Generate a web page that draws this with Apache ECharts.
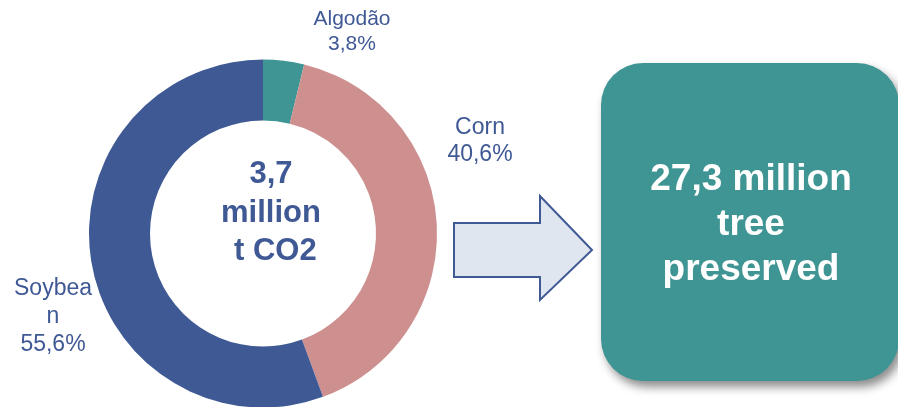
<!DOCTYPE html>
<html>
<head>
<meta charset="utf-8">
<script src="https://cdn.jsdelivr.net/npm/echarts@6/dist/echarts.min.js"></script>
<style>
  html, body { margin: 0; padding: 0; background: #ffffff; }
  #chart { width: 898px; height: 407px; }
</style>
</head>
<body>
<div id="chart"></div>
<script>
// Share of avoided emissions by crop (percent)
const crops = ['Algodão', 'Corn', 'Soybean'];
const shares = [3.8, 40.6, 55.6];
const sliceColors = ['#3F9593', '#CE8F8F', '#3F5995'];

// Headline figures
const totalText = ['3,7', 'million', ' t CO2'];
const treesText = ['27,3 million', 'tree', 'preserved'];

const FONT = '"Liberation Sans", Arial, Helvetica, sans-serif';
const INK = '#3F5995';

// Label anchor points (centre of each label block), text size and wrap width
const labelAnchors = [
  { x: 352, y: 32, size: 21, lh: 25, w: 120 },
  { x: 480, y: 141, size: 23, lh: 27, w: 84 },
  { x: 53, y: 317, size: 23, lh: 28, w: 84 }
];

const fmtPct = v => v.toFixed(1).replace('.', ',') + '%';

const chart = echarts.init(document.getElementById('chart'), null, { renderer: 'canvas' });

chart.setOption({
  animation: false,
  backgroundColor: '#ffffff',
  series: [{
    type: 'pie',
    center: [263, 233.5],
    radius: [113, 174],
    startAngle: 90,
    clockwise: true,
    avoidLabelOverlap: false,
    silent: true,
    labelLine: { show: false },
    label: {
      show: true,
      position: 'outside',
      color: INK,
      fontFamily: FONT,
      overflow: 'breakAll',
      align: 'center',
      formatter: p => p.name + '\n' + fmtPct(p.value)
    },
    labelLayout: p => ({
      x: labelAnchors[p.dataIndex].x,
      y: labelAnchors[p.dataIndex].y,
      align: 'center',
      verticalAlign: 'middle'
    }),
    data: crops.map((name, i) => ({
      name,
      value: shares[i],
      itemStyle: { color: sliceColors[i] },
      label: {
        fontSize: labelAnchors[i].size,
        lineHeight: labelAnchors[i].lh,
        width: labelAnchors[i].w
      }
    }))
  }],
  graphic: [
    {
      type: 'text',
      x: 271,
      y: 213,
      style: {
        text: totalText.join('\n'),
        fill: INK,
        font: 'bold 31px ' + FONT,
        lineHeight: 38.5,
        align: 'center',
        verticalAlign: 'middle'
      }
    },
    {
      type: 'polygon',
      shape: {
        points: [[454, 223], [540, 223], [540, 196], [592, 250], [540, 300], [540, 277], [454, 277]]
      },
      style: { fill: '#DFE6EF', stroke: '#3F5995', lineWidth: 2 }
    },
    {
      type: 'rect',
      shape: { x: 601, y: 63, width: 298, height: 318, r: 42 },
      style: {
        fill: '#3F9593',
        shadowBlur: 10,
        shadowOffsetX: 4,
        shadowOffsetY: 6,
        shadowColor: 'rgba(0,0,0,0.45)'
      }
    },
    {
      type: 'text',
      x: 751,
      y: 225,
      style: {
        text: treesText.join('\n'),
        fill: '#ffffff',
        font: 'bold 37px ' + FONT,
        lineHeight: 45,
        align: 'center',
        verticalAlign: 'middle'
      }
    }
  ]
});
</script>
</body>
</html>
